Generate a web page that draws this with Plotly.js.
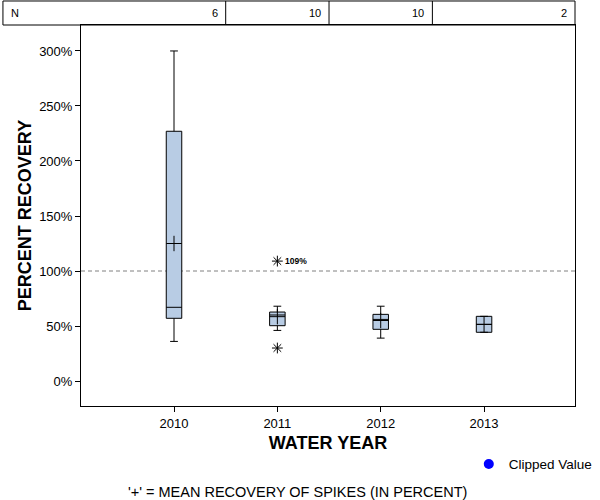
<!DOCTYPE html>
<html>
<head>
<meta charset="utf-8">
<script src="https://cdn.plot.ly/plotly-3.0.1.min.js"></script>
<style>html,body{margin:0;padding:0;background:#fff;}#chart{width:600px;height:500px;}</style>
</head>
<body>
<div id="chart"></div>
<script>
// ---- data ----
var years = ['2010', '2011', '2012', '2013'];
var nCounts = [6, 10, 10, 2];
var lowerFence = [36, 46, 39, 44.3];
var q1 = [57, 50.3, 47, 44.3];
var median = [67, 60, 56, 51.5];
var q3 = [227, 62.7, 60.6, 58.8];
var upperFence = [300, 68, 68, 58.8];
var means = [125, 58.5, 55, 51.5];
var outlierYears = ['2011', '2011'];
var outlierValues = [109, 30];
var outlierLabels = ['109%', ''];
var yTickVals = [0, 50, 100, 150, 200, 250, 300];
var yTickText = ['0%', '50%', '100%', '150%', '200%', '250%', '300%'];

var FONT = 'Arial, "Liberation Sans", sans-serif';

var traces = [
  {
    type: 'box',
    x: years,
    q1: q1, median: median, q3: q3,
    lowerfence: lowerFence, upperfence: upperFence,
    width: 0.15,
    whiskerwidth: 0.5,
    fillcolor: '#b8cce4',
    line: {color: '#000', width: 1},
    boxpoints: false,
    showlegend: false,
    hoverinfo: 'skip'
  },
  {
    type: 'scatter', mode: 'markers',
    x: years, y: means,
    marker: {symbol: 'cross-thin-open', size: 11, color: '#000', line: {color: '#000', width: 1}},
    showlegend: false, hoverinfo: 'skip'
  },
  {
    type: 'scatter', mode: 'markers',
    x: outlierYears, y: outlierValues,
    marker: {symbol: 'asterisk-open', size: 9, color: '#000', line: {color: '#000', width: 1}},
    showlegend: false, hoverinfo: 'skip'
  },
  {
    type: 'scatter', mode: 'markers',
    x: [null], y: [null],
    name: 'Clipped Value',
    marker: {symbol: 'circle', size: 10, color: '#0000ff'},
    showlegend: true, hoverinfo: 'skip'
  }
];

var shapes = [
  {type: 'line', xref: 'paper', x0: 0, x1: 1, yref: 'y', y0: 100, y1: 100,
   line: {color: '#808080', width: 1, dash: '4px,3px'}, layer: 'below'},
  {type: 'rect', xref: 'paper', x0: -0.158, x1: 1, yref: 'paper', y0: 1, y1: 1.063,
   line: {color: '#000', width: 1}}
];
for (var i = 0; i < years.length - 1; i++) {
  shapes.push({type: 'line', xref: 'x', x0: i + 0.5, x1: i + 0.5, yref: 'paper', y0: 1, y1: 1.063,
    line: {color: '#000', width: 1}});
}

var annotations = [
  {text: 'N', xref: 'paper', yref: 'paper', x: -0.158, y: 1.0315, xanchor: 'left', yanchor: 'middle',
   xshift: 6, showarrow: false, font: {family: FONT, size: 11, color: '#000'}},
  {text: "'+' = MEAN RECOVERY OF SPIKES (IN PERCENT)", xref: 'paper', yref: 'paper', x: 0.439, y: -0.225,
   xanchor: 'center', yanchor: 'middle', showarrow: false, font: {family: FONT, size: 14.5, color: '#000'}}
];
for (var j = 0; j < years.length; j++) {
  var xr = (j < years.length - 1) ? j + 0.5 : 3.88;
  annotations.push({text: String(nCounts[j]), xref: 'x', yref: 'paper', x: xr, y: 1.0315,
    xanchor: 'right', yanchor: 'middle', xshift: -6, showarrow: false,
    font: {family: FONT, size: 11, color: '#000'}});
}
for (var k = 0; k < outlierValues.length; k++) {
  if (outlierLabels[k]) {
    annotations.push({text: '<b>' + outlierLabels[k] + '</b>', xref: 'x', yref: 'y',
      x: years.indexOf(outlierYears[k]), y: outlierValues[k], xanchor: 'left', yanchor: 'middle', xshift: 6,
      showarrow: false, font: {family: FONT, size: 8.5, color: '#000'}});
  }
}

var layout = {
  width: 600, height: 500,
  margin: {l: 81, r: 25, t: 25, b: 94, autoexpand: false},
  paper_bgcolor: '#fff', plot_bgcolor: '#fff',
  font: {family: FONT, size: 12, color: '#000'},
  xaxis: {
    type: 'category', range: [-0.9, 3.88],
    showgrid: false, zeroline: false,
    showline: true, linecolor: '#000', linewidth: 1, mirror: true,
    ticks: 'outside', ticklen: 5, tickcolor: '#000',
    tickfont: {family: FONT, size: 13, color: '#000'},
    title: {text: '<b>WATER YEAR</b>', font: {family: FONT, size: 18, color: '#000'}, standoff: 6}
  },
  yaxis: {
    range: [-22.7, 323.6],
    tickvals: yTickVals,
    ticktext: yTickText,
    showgrid: false, zeroline: false,
    showline: true, linecolor: '#000', linewidth: 1, mirror: true,
    ticks: 'outside', ticklen: 5, tickcolor: '#000',
    tickfont: {family: FONT, size: 13, color: '#000'},
    title: {text: '<b>PERCENT RECOVERY</b>', font: {family: FONT, size: 18, color: '#000'}, standoff: 2}
  },
  showlegend: true,
  legend: {x: 0.785, y: -0.153, xanchor: 'left', yanchor: 'middle', bgcolor: 'rgba(0,0,0,0)',
    font: {family: FONT, size: 13.5, color: '#000'}},
  shapes: shapes,
  annotations: annotations
};

Plotly.newPlot('chart', traces, layout, {displayModeBar: false, staticPlot: true});
</script>
</body>
</html>
